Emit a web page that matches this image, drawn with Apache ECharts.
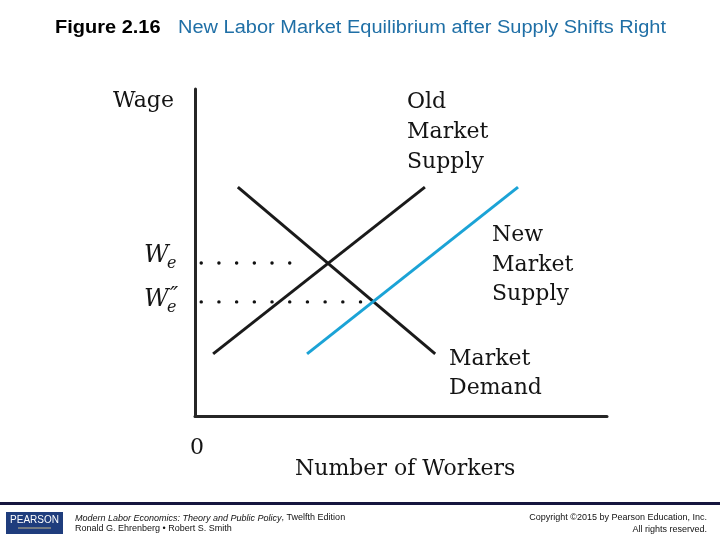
<!DOCTYPE html>
<html><head><meta charset="utf-8">
<script src="https://cdn.jsdelivr.net/npm/echarts@6/dist/echarts.min.js"></script>
<style>html,body{margin:0;padding:0;background:#fff}#c{width:720px;height:540px}</style>
</head><body><div id="c"></div>
<script>
// Curves (arbitrary units: x = number of workers 0..100, y = wage 0..100)
const oldSupply = [[4.4, 19.0], [55.8, 70.0]];
const newSupply = [[27.2, 19.0], [78.4, 70.0]];
const demand = [[10.4, 70.0], [58.3, 19.0]];
// Equilibrium wages (dotted guides end just before the intersections)
const wageE = 46.8;
const wageE2 = 34.9;
const dotsE = [[1.5, wageE], [27.2, wageE]];
const dotsE2 = [[1.5, wageE2], [40.3, wageE2]];

const serif = '"DejaVu Serif", serif';
const sans = '"Liberation Sans", Arial, sans-serif';

const chart = echarts.init(document.getElementById('c'), null, {renderer: 'canvas'});

function txt(x, y, text, size, opts) {
  return Object.assign({
    type: 'text', x: x, y: y, silent: true,
    style: Object.assign({text: text, font: size + 'px ' + serif, fill: '#141414',
      textAlign: 'left', textVerticalAlign: 'middle'}, (opts && opts.style) || {})
  }, opts && opts.el ? opts.el : {});
}

const graphics = [
  // title
  {type: 'text', x: 55, y: 28, scaleY: 0.9, silent: true,
   style: {text: 'Figure 2.16', font: 'bold 20px ' + sans, fill: '#000', textVerticalAlign: 'middle'}},
  {type: 'text', x: 178, y: 28, scaleY: 0.9, silent: true,
   style: {text: 'New Labor Market Equilibrium after Supply Shifts Right', font: '20px ' + sans, fill: '#1F6FA6', textVerticalAlign: 'middle'}},
  // axis titles
  txt(113, 101, 'Wage', 22),
  txt(190, 448, '0', 22),
  txt(295, 469, 'Number of Workers', 22),
  // curve labels
  txt(407, 102, 'Old', 22),
  txt(407, 132, 'Market', 22),
  txt(407, 162, 'Supply', 22),
  txt(492, 235, 'New', 22),
  txt(492, 265, 'Market', 22),
  txt(492, 294, 'Supply', 22),
  txt(449, 359, 'Market', 22),
  txt(449, 388, 'Demand', 22),
  // W_e and W_e''
  txt(144, 256, 'W', 24, {style: {font: 'italic 24px ' + serif}}),
  txt(167, 264, 'e', 16, {style: {font: 'italic 16px ' + serif}}),
  txt(144, 300, 'W', 24, {style: {font: 'italic 24px ' + serif}}),
  txt(167, 308, 'e', 16, {style: {font: 'italic 16px ' + serif}}),
  txt(170, 296, '\u2033', 22, {style: {font: 'italic 22px ' + serif}}),
  // footer rule
  {type: 'rect', silent: true, shape: {x: 0, y: 502, width: 720, height: 3}, style: {fill: '#16163e'}},
  // Pearson logo
  {type: 'rect', silent: true, shape: {x: 6, y: 512, width: 57, height: 22}, style: {fill: '#1f3d7d'}},
  {type: 'text', x: 34.5, y: 520, silent: true,
   style: {text: 'PEARSON', font: '10px ' + sans, fill: '#ffffff', textAlign: 'center', textVerticalAlign: 'middle'}},
  {type: 'line', silent: true, shape: {x1: 18, y1: 528, x2: 51, y2: 528}, style: {stroke: '#c9b98a', lineWidth: 1}},
  // footer texts
  {type: 'text', x: 75, y: 518, silent: true,
   style: {text: '{i|Modern Labor Economics: Theory and Public Policy}{r|, Twelfth Edition}', textVerticalAlign: 'middle',
     rich: {i: {font: 'italic 9px ' + sans, fill: '#111'}, r: {font: '9px ' + sans, fill: '#111'}}}},
  {type: 'text', x: 75, y: 529, silent: true,
   style: {text: 'Ronald G. Ehrenberg \u2022 Robert S. Smith', font: '9px ' + sans, fill: '#111', textVerticalAlign: 'middle'}},
  {type: 'text', x: 707, y: 518, silent: true,
   style: {text: 'Copyright \u00a92015 by Pearson Education, Inc.', font: '9px ' + sans, fill: '#111', textAlign: 'right', textVerticalAlign: 'middle'}},
  {type: 'text', x: 707, y: 530, silent: true,
   style: {text: 'All rights reserved.', font: '9px ' + sans, fill: '#111', textAlign: 'right', textVerticalAlign: 'middle'}}
];

function curve(name, data, color) {
  return {name: name, type: 'line', data: data, symbol: 'none', silent: true,
    lineStyle: {color: color, width: 3, cap: 'butt'}, z: 3};
}
function dots(name, data) {
  return {name: name, type: 'line', data: data, symbol: 'none', silent: true,
    lineStyle: {color: '#111111', width: 3.4, type: [0.1, 17.6], cap: 'round'}, z: 2};
}

const axisCommon = {
  type: 'value', min: 0, max: 100,
  axisLine: {show: true, onZero: false, lineStyle: {color: '#262626', width: 3}},
  axisTick: {show: false}, axisLabel: {show: false}, splitLine: {show: false}
};

chart.setOption({
  animation: false,
  backgroundColor: '#ffffff',
  grid: {left: 195, right: 113, top: 89, bottom: 124, containLabel: false},
  xAxis: axisCommon,
  yAxis: axisCommon,
  series: [
    curve('Old Market Supply', oldSupply, '#1a1a1a'),
    curve('Market Demand', demand, '#1a1a1a'),
    curve('New Market Supply', newSupply, '#1BA3D6'),
    dots('We', dotsE),
    dots('We2', dotsE2)
  ],
  graphic: graphics
});
</script>
</body></html>
